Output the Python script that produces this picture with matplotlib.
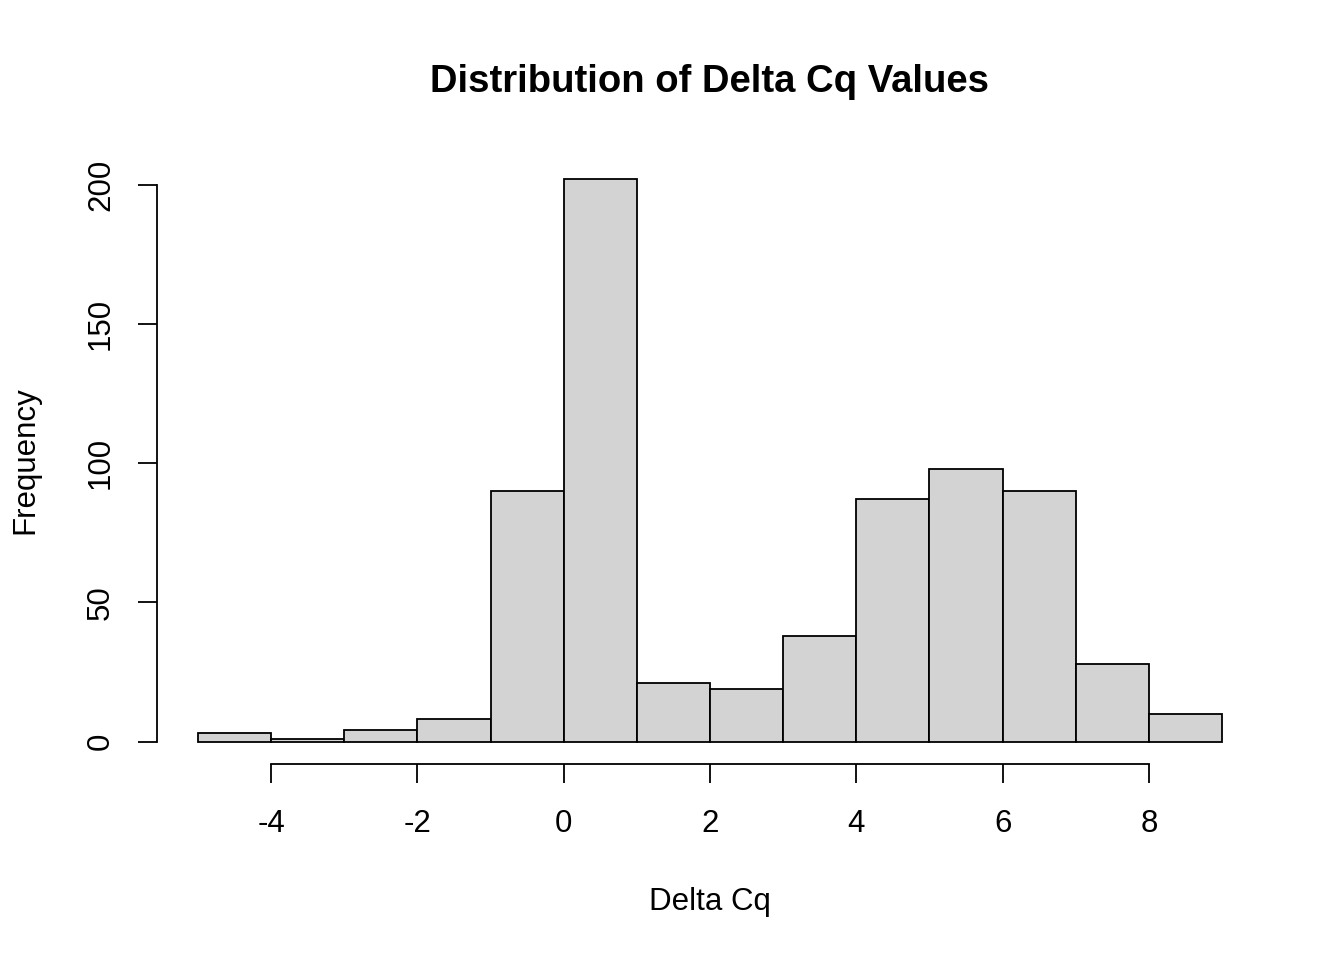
import matplotlib
matplotlib.use("Agg")
import matplotlib.pyplot as plt

# histogram bins (unit width) and counts
bin_edges = [-5, -4, -3, -2, -1, 0, 1, 2, 3, 4, 5, 6, 7, 8, 9]
counts = [3, 1, 4, 8, 90, 202, 21, 19, 38, 87, 98, 90, 28, 10]
x_ticks = [-4, -2, 0, 2, 4, 6, 8]
y_ticks = [0, 50, 100, 150, 200]

plt.rcParams['font.family'] = ['Liberation Sans', 'DejaVu Sans']

fig = plt.figure(figsize=(13.44, 9.6), dpi=100)
ax = fig.add_axes([157 / 1344, 196 / 960, 1106 / 1344, 607 / 960])

lefts = bin_edges[:-1]
widths = [b - a for a, b in zip(bin_edges[:-1], bin_edges[1:])]
ax.bar(lefts, counts, width=widths, align='edge', color='#D3D3D3',
       edgecolor='black', linewidth=1.3)

# R style axis limits: 4% extension
xr = bin_edges[-1] - bin_edges[0]
ax.set_xlim(bin_edges[0] - 0.04 * xr, bin_edges[-1] + 0.04 * xr)
yr = max(counts)
ax.set_ylim(-0.04 * yr, yr * 1.04)

for s in ['top', 'right']:
    ax.spines[s].set_visible(False)
ax.spines['bottom'].set_bounds(x_ticks[0], x_ticks[-1])
ax.spines['left'].set_bounds(y_ticks[0], y_ticks[-1])
for s in ['bottom', 'left']:
    ax.spines[s].set_linewidth(1.3)

ax.set_xticks(x_ticks)
ax.set_xticklabels([str(t) for t in x_ticks])
ax.set_yticks(y_ticks)
ax.set_yticklabels([str(t) for t in y_ticks], rotation=90, va='center')
ax.tick_params(axis='both', length=13.5, width=1.3, labelsize=22.5, direction='out')
ax.tick_params(axis='x', pad=19)
ax.tick_params(axis='y', pad=16)

fig.text(710 / 1344, 1 - 82 / 960, "Distribution of Delta Cq Values",
         ha='center', va='center', fontsize=27.5, fontweight='bold')
fig.text(710 / 1344, 1 - 902 / 960, "Delta Cq", ha='center', va='center', fontsize=22.5)
fig.text(25 / 1344, 1 - 460 / 960, "Frequency", ha='center', va='center',
         rotation=90, fontsize=22.5)

fig.savefig("out.png", dpi=100)
